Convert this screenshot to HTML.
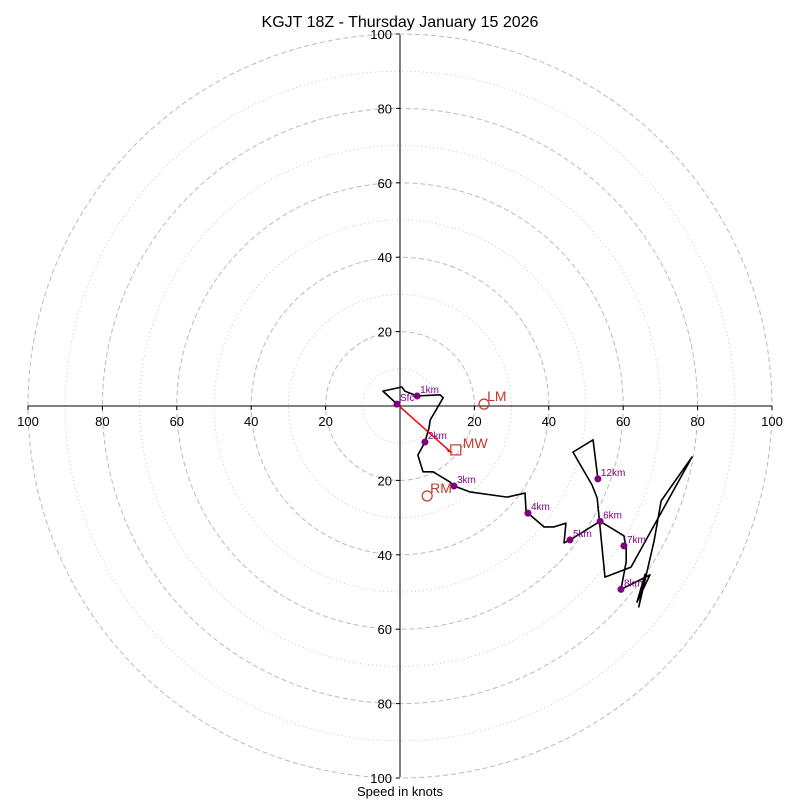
<!DOCTYPE html>
<html><head><meta charset="utf-8"><style>
body{margin:0;background:#fff}
text{font-family:"Liberation Sans","DejaVu Sans",sans-serif}
</style></head><body>
<svg id="c" width="800" height="800"></svg>
<script>
const ringSpeeds=[10,20,30,40,50,60,70,80,90,100];
const tickLabels=[20,40,60,80,100];
const pathU=[-0.8,-4.6,0.5,1.3,4.6,10.8,11.6,8.1,7.8,6.7,4.8,6.2,8.9,13.4,14.5,18.8,28.8,33.6,33.9,34.4,38.7,41.4,44.6,44.1,45.7,53.8,60.2,60.8,60.8,59.4,67.2,63.7,65.9,64.2,68.3,70.2,78.5,62.1,55.1,53.0,51.6,46.5,51.9,53.2];
const pathV=[0.5,4.0,5.1,4.0,2.7,3.0,2.2,-3.8,-5.9,-9.7,-13.2,-17.7,-17.7,-20.4,-21.5,-23.1,-24.5,-23.4,-28.5,-28.8,-32.5,-32.5,-31.5,-36.8,-36.0,-31.0,-34.9,-38.2,-41.9,-49.3,-45.4,-52.7,-45.2,-54.0,-36.3,-25.5,-13.7,-43.3,-46.0,-24.7,-21.2,-12.4,-9.1,-19.6];
const markerNames=["Sfc","1km","2km","3km","4km","5km","6km","7km","8km","12km"];
const markerU=[-0.8,4.6,6.7,14.5,34.4,45.7,53.8,60.2,59.4,53.2];
const markerV=[0.5,2.7,-9.7,-21.5,-28.8,-36.0,-31.0,-37.6,-49.3,-19.6];
const mwUV=[15.0,-11.8], lmUV=[22.6,0.5], rmUV=[7.3,-24.2];

const svg=document.getElementById('c'), NS='http://www.w3.org/2000/svg';
const cx=400, cy=406, k=3.72;
const X=u=>cx+u*k, Y=v=>cy-v*k;
function mk(t,a,p){const e=document.createElementNS(NS,t);for(const n in a)e.setAttribute(n,a[n]);(p||svg).appendChild(e);return e;}
ringSpeeds.forEach(s=>{
  const c=mk('circle',{cx:cx,cy:cy,r:s*k,fill:'none',stroke:'#bbb','stroke-width':s%20?0.8:1,'stroke-dasharray':s%20?'1,3':'5,3'});
  
  
});
const xa=mk('line',{x1:28,y1:cy,x2:772,y2:cy,stroke:'#000','stroke-width':1});

const ya=mk('line',{x1:cx,y1:35,x2:cx,y2:777,stroke:'#000','stroke-width':1});

tickLabels.forEach(t=>{
  [-1,1].forEach(d=>{
    mk('line',{x1:X(d*t),y1:cy,x2:X(d*t),y2:cy+4,stroke:'#000'});
    const tx=mk('text',{x:X(d*t),y:cy+20,'font-size':13,'text-anchor':'middle'});tx.textContent=t;
    
    mk('line',{x1:cx-4,y1:Y(d*t),x2:cx,y2:Y(d*t),stroke:'#000'});
    const ty=mk('text',{x:cx-8,y:Y(d*t)+5,'font-size':13,'text-anchor':'end'});ty.textContent=t;
    
  });
});
const pl=mk('polyline',{points:pathU.map((u,i)=>X(u)+','+Y(pathV[i])).join(' '),fill:'none',stroke:'#000','stroke-width':1.6,'stroke-linejoin':'round'});

// storm motion arrow
const ar=mk('line',{x1:X(markerU[0]),y1:Y(markerV[0]),x2:X(mwUV[0])-4,y2:Y(mwUV[1])+3,stroke:'red','stroke-width':1.5});

const ah=mk('polygon',{points:`${X(mwUV[0])-3},${Y(mwUV[1])+3} ${X(mwUV[0])-10},${Y(mwUV[1])-3} ${X(mwUV[0])-8},${Y(mwUV[1])+2}`,fill:'red'});

markerNames.forEach((n,i)=>{
  const d=mk('circle',{cx:X(markerU[i]),cy:Y(markerV[i]),r:3.5,fill:'purple'});
  
  const t=mk('text',{x:X(markerU[i])+3,y:Y(markerV[i])-3,'font-size':10,fill:'purple'});t.textContent=n;
  
});
const sq=mk('rect',{x:X(mwUV[0])-5,y:Y(mwUV[1])-5,width:10,height:10,fill:'none',stroke:'#c0392b','stroke-width':1.2});

[['LM',lmUV],['RM',rmUV]].forEach(([n,p])=>{
  const c=mk('circle',{cx:X(p[0]),cy:Y(p[1]),r:5,fill:'none',stroke:'#c0392b','stroke-width':1.2});
  
});
[['MW',mwUV,7,-2],['LM',lmUV,3,-3],['RM',rmUV,3,-3]].forEach(([n,p,dx,dy])=>{
  const t=mk('text',{x:X(p[0])+dx,y:Y(p[1])+dy,'font-size':14,fill:'#c0392b'});t.textContent=n;
  
});
const ti=mk('text',{x:400,y:27,'font-size':16,'text-anchor':'middle'});ti.textContent='KGJT 18Z - Thursday January 15 2026';

const xl=mk('text',{x:400,y:796,'font-size':13,'text-anchor':'middle'});xl.textContent='Speed in knots';

</script>
</body></html>
